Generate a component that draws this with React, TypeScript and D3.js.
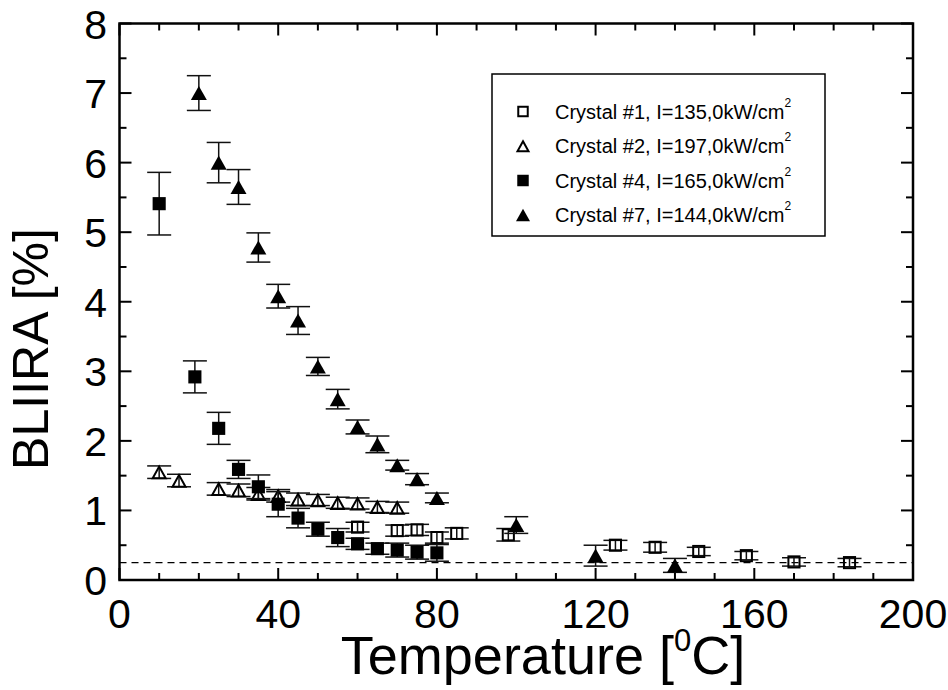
import React from "react";
import * as d3 from "d3";

const c1T = [60, 70, 75, 80, 85, 98, 125, 135, 146, 158, 170, 184];
const c1V = [0.76, 0.71, 0.72, 0.61, 0.67, 0.65, 0.5, 0.47, 0.41, 0.35, 0.26, 0.25];
const c1E = [0.07, 0.08, 0.08, 0.08, 0.08, 0.09, 0.07, 0.07, 0.06, 0.06, 0.06, 0.06];

const c2T = [10, 15, 25, 30, 35, 40, 45, 50, 55, 60, 65, 70];
const c2V = [1.55, 1.43, 1.31, 1.29, 1.24, 1.21, 1.16, 1.15, 1.11, 1.1, 1.05, 1.04];
const c2E = [0.09, 0.09, 0.09, 0.09, 0.09, 0.09, 0.09, 0.08, 0.08, 0.08, 0.08, 0.08];

const c4T = [10, 19, 25, 30, 35, 40, 45, 50, 55, 60, 65, 70, 75, 80];
const c4V = [5.41, 2.92, 2.18, 1.59, 1.34, 1.09, 0.89, 0.73, 0.61, 0.52, 0.45, 0.43, 0.4, 0.39];
const c4E = [0.45, 0.23, 0.23, 0.13, 0.17, 0.18, 0.14, 0.1, 0.13, 0.08, 0.08, 0.1, 0.1, 0.12];

const c7T = [20, 25, 30, 35, 40, 45, 50, 55, 60, 65, 70, 75, 80, 100, 120, 140];
const c7V = [7.0, 6.0, 5.65, 4.78, 4.08, 3.73, 3.07, 2.6, 2.2, 1.95, 1.65, 1.45, 1.18, 0.79, 0.35, 0.21];
const c7E = [0.25, 0.29, 0.25, 0.21, 0.17, 0.2, 0.13, 0.14, 0.1, 0.12, 0.07, 0.08, 0.07, 0.12, 0.15, 0.1];

const baseline = 0.25;

const xMajor = [0, 40, 80, 120, 160, 200];
const xMinor = d3.range(0, 201, 10);
const yMajor = [0, 1, 2, 3, 4, 5, 6, 7, 8];
const yMinor = d3.range(0, 8.01, 0.5);

const legendLabels = [
  "Crystal #1, I=135,0kW/cm",
  "Crystal #2, I=197,0kW/cm",
  "Crystal #4, I=165,0kW/cm",
  "Crystal #7, I=144,0kW/cm",
];
const markerKinds = ["openSquare", "openTriangle", "square", "triangle"];

const FONT = "'Liberation Sans', Arial, sans-serif";

function Marker({ kind, x, y, s }: { kind: string; x: number; y: number; s: number }) {
  if (kind === "openSquare" || kind === "square") {
    const h = s * 0.82;
    const open = kind === "openSquare";
    return (
      <rect
        x={x - h / 2 + (open ? 1 : 0)}
        y={y - h / 2 + (open ? 1 : 0)}
        width={h - (open ? 2 : 0)}
        height={h - (open ? 2 : 0)}
        fill={open ? "none" : "#000"}
        stroke="#000"
        strokeWidth={open ? 2 : 0}
      />
    );
  }
  const open = kind === "openTriangle";
  const w = s;
  const h = s * 0.88;
  const ins = open ? 1.5 : 0;
  const pts = `${x},${y - h / 2 + ins} ${x + w / 2 - ins},${y + h / 2 - ins * 0.6} ${x - w / 2 + ins},${y + h / 2 - ins * 0.6}`;
  return <polygon points={pts} fill={open ? "none" : "#000"} stroke="#000" strokeWidth={open ? 2 : 0} strokeLinejoin="miter" />;
}

export default function App() {
  const left = 119.5;
  const right = 913;
  const top = 23.5;
  const bottom = 580;
  const x = d3.scaleLinear().domain([0, 200]).range([left, right]);
  const y = d3.scaleLinear().domain([0, 8]).range([bottom, top]);

  const series = [
    { T: c1T, V: c1V, E: c1E, kind: "openSquare" },
    { T: c2T, V: c2V, E: c2E, kind: "openTriangle" },
    { T: c4T, V: c4V, E: c4E, kind: "square" },
    { T: c7T, V: c7V, E: c7E, kind: "triangle" },
  ];

  const cap = 12;

  return (
    <svg width={948} height={690} style={{ position: "absolute", left: 0, top: 0, background: "#fff" }} fontFamily={FONT}>
      <rect x={0} y={0} width={948} height={690} fill="#fff" />
      <line x1={x(0)} x2={x(200)} y1={y(baseline)} y2={y(baseline)} stroke="#000" strokeWidth={1.4} strokeDasharray="7,5" />

      {series.map((s, si) => (
        <g key={si}>
          {s.T.map((t, i) => {
            const cx = x(t);
            const cy = y(s.V[i]);
            const y1 = y(s.V[i] + s.E[i]);
            const y2 = y(s.V[i] - s.E[i]);
            return (
              <g key={i}>
                <line x1={cx} x2={cx} y1={y1} y2={y2} stroke="#111" strokeWidth={1.5} />
                <line x1={cx - cap} x2={cx + cap} y1={y1} y2={y1} stroke="#111" strokeWidth={1.5} />
                <line x1={cx - cap} x2={cx + cap} y1={y2} y2={y2} stroke="#111" strokeWidth={1.5} />
                <Marker kind={s.kind} x={cx} y={cy} s={16} />
              </g>
            );
          })}
        </g>
      ))}

      <rect x={left} y={top} width={right - left} height={bottom - top} fill="none" stroke="#000" strokeWidth={2.5} />

      {xMinor.map((v) => {
        const major = v % 40 === 0;
        const len = major ? 12 : 7;
        return (
          <g key={"x" + v}>
            <line x1={x(v)} x2={x(v)} y1={bottom} y2={bottom - len} stroke="#000" strokeWidth={2} />
            <line x1={x(v)} x2={x(v)} y1={top} y2={top + len} stroke="#000" strokeWidth={2} />
          </g>
        );
      })}
      {yMinor.map((v) => {
        const major = Math.abs(v - Math.round(v)) < 1e-6;
        const len = major ? 12 : 7;
        return (
          <g key={"y" + v}>
            <line x1={left} x2={left + len} y1={y(v)} y2={y(v)} stroke="#000" strokeWidth={2} />
            <line x1={right} x2={right - len} y1={y(v)} y2={y(v)} stroke="#000" strokeWidth={2} />
          </g>
        );
      })}

      {xMajor.map((v) => (
        <text key={"xl" + v} x={x(v)} y={628} textAnchor="middle" fontSize={41}>
          {v}
        </text>
      ))}
      {yMajor.map((v) => (
        <text key={"yl" + v} x={107} y={y(v) + 15} textAnchor="end" fontSize={41}>
          {v}
        </text>
      ))}

      <text x={543} y={674} textAnchor="middle" fontSize={54}>
        Temperature [<tspan fontSize={31} dy={-23}>0</tspan>
        <tspan dy={23}>C]</tspan>
      </text>
      <text transform="translate(48,349) rotate(-90)" textAnchor="middle" fontSize={50}>
        BLIIRA [%]
      </text>

      <rect x={492} y={74} width={333} height={162} fill="#fff" stroke="#000" strokeWidth={1.5} />
      {legendLabels.map((lab, i) => {
        const ly = 111.5 + i * 34.5;
        return (
          <g key={"lg" + i}>
            <Marker kind={markerKinds[i]} x={523} y={ly} s={14} />
            <text x={555} y={ly + 7} fontSize={20}>
              {lab}
              <tspan fontSize={12} dy={-12}>2</tspan>
            </text>
          </g>
        );
      })}
    </svg>
  );
}
